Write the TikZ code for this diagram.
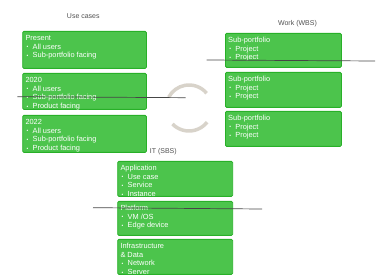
\documentclass[tikz,border=0pt]{standalone}
\usepackage{fontspec}
\setmainfont{Liberation Sans}
\usetikzlibrary{calc}

\definecolor{boxfill}{RGB}{76,196,76}
\definecolor{boxedge}{RGB}{40,176,40}
\definecolor{headgray}{RGB}{80,80,80}
\definecolor{strike}{RGB}{70,70,70}
\definecolor{cyclegray}{RGB}{216,211,202}

% small list bullet followed by the item indent
\newcommand{\bul}{\hspace*{1.2pt}\makebox[6pt][l]{\raisebox{0.4pt}{\fontsize{5}{5}\selectfont\textbullet}}}

\tikzset{
  gbox/.style={draw=boxedge, fill=boxfill, line width=0.8pt, rounded corners=1.2pt,
               anchor=north west, inner sep=0pt},
  gtext/.style={text=white, anchor=base west, inner sep=0pt,
                font=\fontsize{7.4}{8.7}\selectfont},
  head/.style={text=headgray, font=\fontsize{7}{8}\selectfont, inner sep=0pt},
  strikeline/.style={draw=strike, line width=0.7pt},
  cyclearc/.style={draw=cyclegray, line width=3.5pt}
}

% #1 name, #2 left, #3 top, #4 width, #5 height, #6 text (clipped to the box)
\newcommand{\greenbox}[6]{%
  \node[gbox, minimum width=#4pt, minimum height=#5pt] (#1) at (#2,#3) {};
  \begin{scope}
    \clip (#1.south west) rectangle (#1.north east);
    \node[gtext] (#1-text) at ([xshift=3pt,yshift=-9.6pt]#1.north west)
      {\parbox[t]{#4pt}{\raggedright #6}};
  \end{scope}}

\begin{document}
\begin{tikzpicture}[x=1pt,y=-1pt]
\useasboundingbox (0,0) rectangle (380,280);

% column headings
\node[head] (uc-head)  at (83.3,16.3)  {Use cases};
\node[head] (wbs-head) at (297.5,23.3) {Work (WBS)};
\node[head] (sbs-head) at (163.3,151.7) {IT (SBS)};

% use cases
\greenbox{uc1}{22.3}{31}{123.7}{37}{Present\\ \bul All users\\ \bul Sub-portfolio facing}
\greenbox{uc2}{22.3}{73}{123.7}{36}{2020\\ \bul All users\\ \bul Sub-portfolio facing\\ \bul Product facing}
\greenbox{uc3}{22.3}{115}{123.7}{37}{2022\\ \bul All users\\ \bul Sub-portfolio facing\\ \bul Product facing}

% work breakdown
\greenbox{wbs1}{225}{33}{116}{34}{Sub-portfolio\\ \bul Project\\ \bul Project}
\greenbox{wbs2}{225}{72}{116}{35}{Sub-portfolio\\ \bul Project\\ \bul Project}
\greenbox{wbs3}{225}{111}{116}{35}{Sub-portfolio\\ \bul Project\\ \bul Project}

% IT service breakdown
\greenbox{sbs1}{117.3}{161}{115}{35}{Application\\ \bul Use case\\ \bul Service\\ \bul Instance}
\greenbox{sbs2}{117.3}{201}{115}{34}{Platform\\ \bul VM /OS\\ \bul Edge device}
\greenbox{sbs3}{117.3}{239}{115}{35}{Infrastructure\\ \& Data\\ \bul Network\\ \bul Server}

% cycle symbol
\coordinate (cyc) at (189,108);
\draw[cyclearc] ([shift={(40:23pt)}]cyc) arc[start angle=40, end angle=152, radius=23pt];
\draw[cyclearc] ([shift={(-136:23pt)}]cyc) arc[start angle=-136, end angle=-38, radius=23pt];

% horizontal rules
\coordinate (s1a) at (17.3,96.7);  \coordinate (s1b) at (185.7,97.7);
\coordinate (s2a) at (206.7,60);   \coordinate (s2b) at (375,61);
\coordinate (s3a) at (93,207.7);   \coordinate (s3b) at (262,209);
\draw[strikeline] (s1a) -- (s1b);
\draw[strikeline] (s2a) -- (s2b);
\draw[strikeline] (s3a) -- (s3b);
\end{tikzpicture}
\end{document}
